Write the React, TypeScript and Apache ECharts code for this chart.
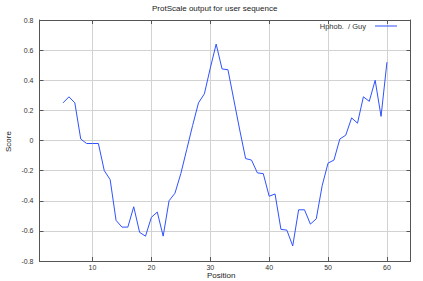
import React, { useEffect, useRef } from "react";
import * as echarts from "echarts";

const positions = [
  5, 6, 7, 8, 9, 10, 11, 12, 13, 14, 15, 16, 17, 18, 19, 20, 21, 22, 23, 24,
  25, 26, 27, 28, 29, 30, 31, 32, 33, 34, 35, 36, 37, 38, 39, 40, 41, 42, 43,
  44, 45, 46, 47, 48, 49, 50, 51, 52, 53, 54, 55, 56, 57, 58, 59, 60,
];
const scores = [
  0.25, 0.29, 0.25, 0.01, -0.02, -0.02, -0.02, -0.2, -0.26, -0.53, -0.575,
  -0.575, -0.44, -0.61, -0.635, -0.51, -0.475, -0.635, -0.4, -0.35, -0.22,
  -0.06, 0.1, 0.25, 0.31, 0.48, 0.64, 0.475, 0.47, 0.27, 0.07, -0.12, -0.13,
  -0.215, -0.22, -0.37, -0.355, -0.59, -0.595, -0.7, -0.46, -0.46, -0.555,
  -0.52, -0.3, -0.15, -0.13, 0.01, 0.035, 0.15, 0.115, 0.29, 0.26, 0.4, 0.16,
  0.52,
];
const xTicks = [10, 20, 30, 40, 50, 60];
const seriesName = "Hphob.  / Guy";
const titleText = "ProtScale output for user sequence";
const xName = "Position";
const yName = "Score";

const FONT = "'Liberation Sans', Arial, sans-serif";

export default function App() {
  const ref = useRef<HTMLDivElement>(null);
  useEffect(() => {
    if (!ref.current) return;
    const chart = echarts.init(ref.current, undefined, { renderer: "svg" });
    const axisLineStyle = { color: "#555", width: 1 };
    const tickStyle = { color: "#555", width: 1 };
    const gridLine = { color: "#d2d2d2", width: 1 };
    chart.setOption({
      animation: false,
      backgroundColor: "#ffffff",
      textStyle: { fontFamily: FONT },
      title: {
        text: titleText,
        left: 152,
        top: 4,
        padding: 0,
        textStyle: { fontSize: 8, fontWeight: "normal", color: "#222", fontFamily: FONT },
      },
      legend: {
        data: [{ name: seriesName, icon: "rect" }],
        right: 26,
        top: 22,
        padding: 0,
        align: "right",
        itemWidth: 22,
        itemHeight: 1,
        itemGap: 10,
        textStyle: { fontSize: 7.5, color: "#333", fontFamily: FONT, padding: [0, 4, 0, 0] },
      },
      grid: { left: 39.5, right: 12.5, top: 20, bottom: 20, containLabel: false },
      xAxis: [
        {
          type: "value",
          position: "bottom",
          min: 1,
          max: 64,
          axisLine: { show: true, onZero: false, lineStyle: axisLineStyle },
          axisTick: { show: true, inside: true, length: 4, customValues: xTicks, lineStyle: tickStyle },
          axisLabel: { customValues: xTicks, margin: 3, fontSize: 7, color: "#333", fontFamily: FONT },
          splitLine: { show: true, lineStyle: gridLine },
        },
        {
          type: "value",
          position: "top",
          min: 1,
          max: 64,
          axisLine: { show: true, onZero: false, lineStyle: axisLineStyle },
          axisTick: { show: true, inside: true, length: 4, customValues: xTicks, lineStyle: tickStyle },
          axisLabel: { show: false, customValues: xTicks },
          splitLine: { show: false },
        },
      ],
      yAxis: [
        {
          type: "value",
          position: "left",
          min: -0.8,
          max: 0.8,
          interval: 0.2,
          axisLine: { show: true, onZero: false, lineStyle: axisLineStyle },
          axisTick: { show: true, inside: true, length: 4, lineStyle: tickStyle },
          axisLabel: {
            margin: 6,
            fontSize: 7,
            color: "#333",
            fontFamily: FONT,
            formatter: (v: number) => {
              const r = Math.round(v * 10) / 10;
              return r === 0 ? "0" : String(r);
            },
          },
          splitLine: { show: true, lineStyle: gridLine },
        },
        {
          type: "value",
          position: "right",
          min: -0.8,
          max: 0.8,
          interval: 0.2,
          axisLine: { show: true, onZero: false, lineStyle: axisLineStyle },
          axisTick: { show: true, inside: true, length: 4, lineStyle: tickStyle },
          axisLabel: { show: false },
          splitLine: { show: false },
        },
      ],
      graphic: [
        {
          type: "text",
          left: 207,
          top: 271,
          style: { text: xName, fontSize: 8, fill: "#222", fontFamily: FONT },
        },
        {
          type: "text",
          x: 4,
          y: 152,
          rotation: Math.PI / 2,
          style: { text: yName, fontSize: 8, fill: "#222", fontFamily: FONT },
        },
      ],
      series: [
        {
          name: seriesName,
          type: "line",
          xAxisIndex: 0,
          yAxisIndex: 0,
          showSymbol: false,
          symbol: "none",
          color: "#2f52ff",
          lineStyle: { color: "#2f52ff", width: 1 },
          data: positions.map((p, i) => [p, scores[i]]),
        },
      ],
    });
    return () => chart.dispose();
  }, []);
  return (
    <div
      ref={ref}
      style={{ position: "fixed", left: 0, top: 0, width: 423, height: 281 }}
    />
  );
}
